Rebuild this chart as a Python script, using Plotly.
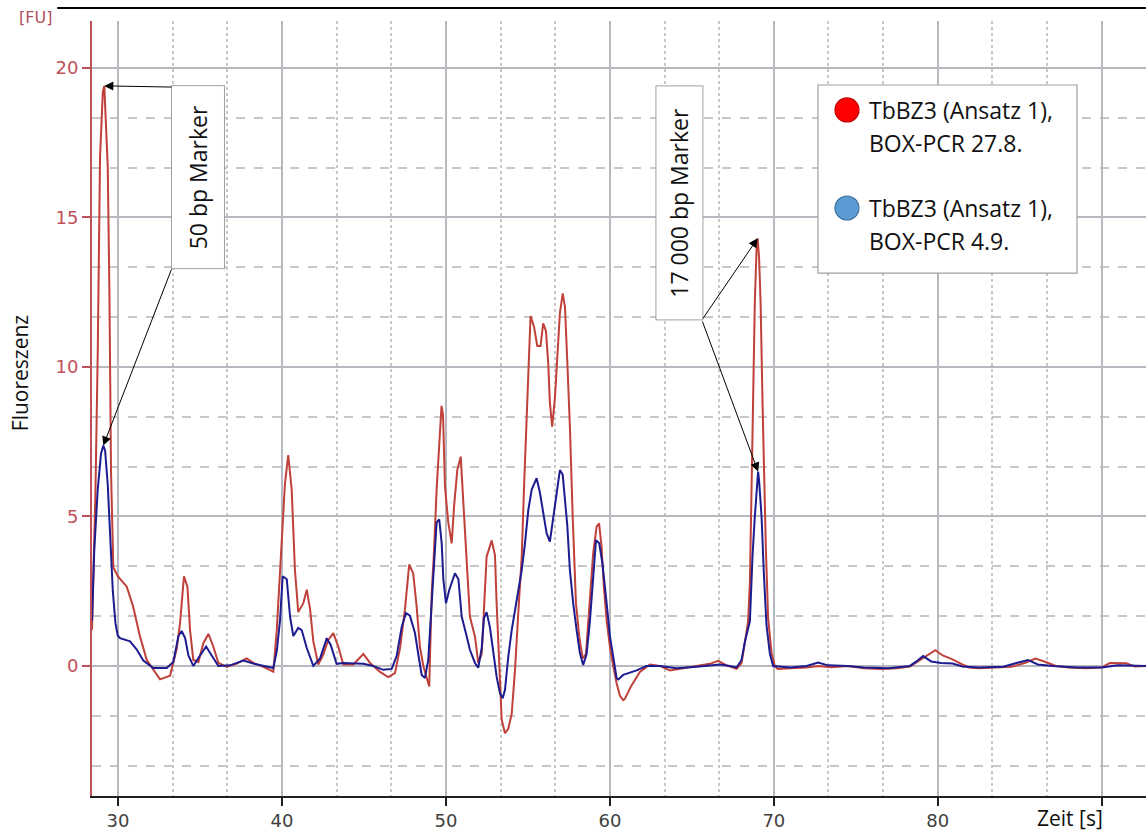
import plotly.graph_objects as go

# ---------------- data ----------------
red_t = [28.41, 28.48, 28.62, 28.76, 28.90, 29.07, 29.16, 29.37, 29.47, 29.57, 29.71, 29.98,
         30.53, 30.91, 31.34, 31.75, 32.56, 33.17, 33.58, 33.78, 34.02, 34.23, 34.39, 34.59,
         34.90, 35.20, 35.51, 35.81, 36.12, 36.63, 37.24, 37.85, 38.25, 38.86, 39.47, 39.68,
         39.98, 40.18, 40.38, 40.59, 40.79, 40.99, 41.30, 41.51, 41.71, 41.91, 42.21, 42.52,
         42.82, 43.13, 43.43, 43.74, 44.35, 44.96, 45.37, 45.98, 46.48, 46.89, 47.20, 47.50,
         47.76, 48.00, 48.21, 48.41, 48.62, 48.82, 48.98, 49.13, 49.27, 49.43, 49.63, 49.73,
         49.82, 49.94, 50.14, 50.35, 50.49, 50.69, 50.90, 51.10, 51.26, 51.46, 51.77, 51.97,
         52.18, 52.32, 52.48, 52.79, 52.99, 53.09, 53.25, 53.40, 53.60, 53.80, 54.01, 54.21,
         54.41, 54.62, 54.77, 54.92, 55.06, 55.16, 55.37, 55.57, 55.77, 55.93, 56.10, 56.24,
         56.34, 56.48, 56.65, 56.79, 56.95, 57.12, 57.26, 57.40, 57.56, 57.73, 57.93, 58.13,
         58.34, 58.54, 58.74, 58.98, 59.19, 59.34, 59.49, 59.63, 59.80, 60.00, 60.20, 60.41,
         60.61, 60.81, 60.91, 61.32, 61.83, 62.44, 63.05, 63.66, 64.47, 65.29, 66.10, 66.60,
         67.12, 67.73, 68.03, 68.23, 68.43, 68.54, 68.64, 68.74, 68.84, 68.95, 69.01, 69.10,
         69.19, 69.31, 69.39, 69.51, 69.65, 69.86, 70.06, 70.24, 71.0, 72.0, 72.7, 73.5,
         74.5, 75.5, 76.5, 77.5, 78.3, 78.8, 79.4, 79.85, 80.3, 80.9, 81.4, 81.9,
         82.5, 83.5, 84.5, 85.3, 85.96, 86.5, 87.2, 88.0, 89.0, 90.0, 90.5, 91.5,
         92.0, 92.7]
red_v = [1.2, 2.6, 5.8, 10.5, 17.0, 19.2, 19.4, 16.7, 12.6, 6.5, 3.3, 3.0,
         2.65, 2.0, 0.98, 0.2, -0.45, -0.33, 0.57, 1.43, 3.0, 2.65, 1.2, 0.2,
         0.13, 0.76, 1.07, 0.65, 0.1, -0.03, 0.08, 0.25, 0.1, -0.03, -0.19, 1.2,
         4.0, 6.1, 7.05, 5.9, 3.2, 1.8, 2.1, 2.55, 1.9, 0.82, 0.05, 0.38,
         0.87, 1.1, 0.65, 0.05, 0.05, 0.4, 0.1, -0.2, -0.37, -0.24, 0.6, 1.9,
         3.4, 3.1, 2.0, 0.65, 0.0, -0.36, -0.69, 2.43, 3.8, 5.9, 7.9, 8.7,
         8.4, 6.0, 4.8, 4.1, 5.3, 6.55, 7.0, 5.0, 3.2, 1.65, 0.98, 0.1,
         0.4, 2.1, 3.65, 4.2, 3.7, 2.1, -0.1, -1.8, -2.25, -2.1, -1.6, -0.15,
         1.76, 3.65, 6.1, 8.2, 10.2, 11.7, 11.35, 10.7, 10.7, 11.46, 11.2, 10.1,
         8.8, 8.0, 9.0, 10.35, 11.8, 12.46, 12.0, 10.2, 8.0, 5.0, 2.1, 0.98,
         0.25, 0.4, 2.1, 3.77, 4.66, 4.77, 4.0, 2.65, 1.53, 0.65, 0.0, -0.58,
         -1.0, -1.14, -1.1, -0.65, -0.2, 0.05, 0.0, -0.15, -0.08, 0.0, 0.07, 0.17,
         0.02, -0.1, 0.1, 0.77, 1.5, 2.8, 6.4, 10.1, 12.2, 14.0, 14.3, 13.65,
         12.2, 8.8, 6.4, 4.0, 1.6, 0.43, 0.0, -0.1, -0.08, -0.05, 0.0, -0.04,
         0.0, -0.08, -0.1, -0.08, -0.02, 0.15, 0.35, 0.53, 0.35, 0.22, 0.08, -0.05,
         -0.08, -0.05, -0.03, 0.1, 0.25, 0.15, 0.0, -0.05, -0.08, -0.05, 0.1, 0.09,
         -0.02, 0.0]

blue_t = [28.41, 28.55, 28.76, 28.96, 29.10, 29.21, 29.37, 29.51, 29.68, 29.84, 29.98, 30.12,
          30.73, 31.14, 31.54, 32.15, 32.97, 33.37, 33.68, 33.88, 34.09, 34.29, 34.59, 35.00,
          35.37, 35.71, 36.12, 36.83, 37.64, 38.25, 39.47, 39.68, 39.88, 40.04, 40.29, 40.49,
          40.69, 40.99, 41.20, 41.51, 41.91, 42.32, 42.73, 42.97, 43.33, 43.74, 44.96, 45.56,
          46.17, 46.69, 46.99, 47.30, 47.56, 47.80, 48.11, 48.31, 48.52, 48.72, 48.92, 49.13,
          49.27, 49.43, 49.59, 49.74, 49.84, 50.00, 50.20, 50.55, 50.76, 50.96, 51.26, 51.46,
          51.77, 51.97, 52.18, 52.32, 52.48, 52.68, 52.88, 53.09, 53.29, 53.46, 53.60, 53.80,
          54.01, 54.21, 54.41, 54.62, 54.82, 55.02, 55.23, 55.53, 55.73, 55.93, 56.14, 56.34,
          56.54, 56.75, 56.95, 57.12, 57.26, 57.40, 57.56, 57.76, 57.97, 58.17, 58.37, 58.58,
          58.78, 58.98, 59.15, 59.35, 59.55, 59.80, 60.00, 60.20, 60.41, 60.51, 60.81, 61.63,
          62.24, 63.05, 64.07, 65.29, 66.10, 66.71, 67.32, 67.73, 68.03, 68.23, 68.54, 68.70,
          68.84, 68.95, 69.04, 69.10, 69.25, 69.39, 69.55, 69.76, 69.96, 71.0, 72.0, 72.7,
          73.3, 74.5, 75.5, 77.0, 78.3, 78.7, 79.1, 79.6, 80.2, 80.9, 81.5, 82.5,
          84.0, 84.8, 85.5, 86.1, 87.0, 88.5, 90.0, 91.0, 92.7]
blue_v = [1.5, 3.9, 5.9, 7.1, 7.37, 7.2, 6.07, 4.36, 2.5, 1.43, 1.02, 0.93,
          0.82, 0.55, 0.18, -0.07, -0.07, 0.13, 1.0, 1.17, 0.93, 0.35, 0.0, 0.35,
          0.65, 0.35, 0.0, 0.02, 0.18, 0.08, -0.07, 0.5, 1.53, 3.0, 2.9, 1.65,
          1.0, 1.27, 1.2, 0.6, 0.0, 0.25, 0.93, 0.7, 0.07, 0.1, 0.07, 0.0,
          -0.13, -0.1, 0.33, 1.3, 1.77, 1.68, 1.1, 0.4, -0.3, -0.4, 0.2, 2.1,
          3.3, 4.8, 4.9, 4.1, 2.9, 2.1, 2.54, 3.1, 2.9, 1.65, 1.0, 0.54,
          0.1, -0.06, 0.6, 1.6, 1.8, 1.3, 0.5, -0.36, -0.9, -1.08, -0.8, 0.3,
          1.2, 1.87, 2.54, 3.2, 4.1, 5.2, 5.9, 6.28, 5.8, 5.2, 4.44, 4.16,
          5.0, 5.9, 6.55, 6.4, 5.6, 4.7, 3.2, 2.1, 1.2, 0.43, 0.03, 0.4,
          1.5, 3.0, 4.2, 4.1, 3.4, 2.1, 1.0, 0.32, -0.41, -0.45, -0.3, -0.15,
          0.0, 0.0, -0.08, -0.03, 0.02, 0.05, 0.0, -0.05, 0.2, 0.8, 1.5, 3.7,
          5.0, 6.0, 6.5, 6.2, 5.0, 3.1, 1.37, 0.4, 0.0, -0.05, 0.0, 0.11,
          0.02, 0.0, -0.05, -0.08, 0.0, 0.15, 0.33, 0.15, 0.1, 0.08, -0.02, -0.05,
          -0.03, 0.1, 0.2, 0.05, 0.0, -0.05, -0.05, 0.02, 0.0]

x_ticks = [30, 40, 50, 60, 70, 80, 90]
x_tick_labels = ["30", "40", "50", "60", "70", "80", ""]
y_ticks = [0, 5, 10, 15, 20]
y_tick_labels = ["0", "5", "10", "15", "20"]

legend_line1 = ["TbBZ3 (Ansatz 1),", "TbBZ3 (Ansatz 1),"]
legend_line2 = ["BOX-PCR 27.8.", "BOX-PCR 4.9."]
legend_fill = ["#ff0000", "#5b9bd5"]
legend_edge = ["#c00000", "#41719c"]

marker_labels = ["50 bp Marker", "17 000 bp Marker"]

RED_LINE = "#c0403a"
BLUE_LINE = "#1c1c90"
AXIS_RED = "#c0505a"
TEXT_FONT = "Open Sans"

# ---------------- figure ----------------
fig = go.Figure()
fig.add_trace(go.Scatter(x=red_t, y=red_v, mode="lines",
                         line=dict(color=RED_LINE, width=2), showlegend=False))
fig.add_trace(go.Scatter(x=blue_t, y=blue_v, mode="lines",
                         line=dict(color=BLUE_LINE, width=2), showlegend=False))

fig.update_layout(
    width=1146, height=834,
    margin=dict(l=92, r=0, t=21, b=38),
    paper_bgcolor="white", plot_bgcolor="white",
    font=dict(family="DejaVu Sans", size=15),
    showlegend=False,
)
fig.update_xaxes(
    range=[28.41, 92.7], tickvals=x_ticks, ticktext=x_tick_labels,
    showgrid=True, gridcolor="#b8b8c0", gridwidth=1.5,
    minor=dict(tick0=0, dtick=10 / 3, showgrid=True, gridcolor="#c8c8c8",
               griddash="dot", gridwidth=1.5, ticks=""),
    showline=True, linecolor="#202020", linewidth=1.5,
    ticks="outside", ticklen=8, tickcolor="#202020", tickwidth=1.5,
    tickfont=dict(color="#404040", size=18, family="DejaVu Sans"),
    zeroline=False, automargin=False,
)
fig.update_yaxes(
    range=[-4.35, 21.57], tickvals=y_ticks, ticktext=y_tick_labels,
    showgrid=True, gridcolor="#b8b8c0", gridwidth=1.5,
    minor=dict(tick0=0, dtick=5 / 3, showgrid=True, gridcolor="#c8c8c8",
               griddash="dash", gridwidth=1.5, ticks=""),
    showline=True, linecolor=AXIS_RED, linewidth=2,
    ticks="outside", ticklen=8, tickcolor=AXIS_RED, tickwidth=1.5,
    tickfont=dict(color=AXIS_RED, size=18, family="DejaVu Sans"),
    zeroline=False, automargin=False,
)

# ---------------- axis texts ----------------
fig.add_annotation(text="[FU]", xref="paper", yref="paper", x=-0.054, y=1.004,
                   xanchor="center", yanchor="middle",
                   showarrow=False, font=dict(color="#b05060", size=16, family="DejaVu Sans"))
fig.add_annotation(text="Fluoreszenz", xref="paper", yref="paper", x=-0.068, y=0.546,
                   xanchor="center", yanchor="middle", textangle=-90, showarrow=False,
                   font=dict(color="#111111", size=21, family=TEXT_FONT))
fig.add_annotation(text="Zeit [s]", xref="paper", yref="paper", x=0.928, y=-0.029,
                   xanchor="center", yanchor="middle",
                   showarrow=False, font=dict(color="#111111", size=21, family=TEXT_FONT))

# top border line
fig.add_shape(type="line", xref="paper", yref="paper", x0=-0.033, x1=1.0, y0=1.0168, y1=1.0168,
              line=dict(color="black", width=2))

# ---------------- legend box (drawn) ----------------
fig.add_shape(type="rect", xref="paper", yref="paper", x0=0.6888, x1=0.9345, y0=0.6748, y1=0.9174,
              line=dict(color="#a0a0a0", width=1.2), fillcolor="white", layer="above")
legend_y = [0.8852, 0.7587]
for i in range(2):
    fig.add_shape(type="circle", xref="paper", yref="paper", xsizemode="pixel", ysizemode="pixel",
                  xanchor=0.7163, yanchor=legend_y[i], x0=-12, x1=12, y0=-12, y1=12,
                  fillcolor=legend_fill[i], line=dict(color=legend_edge[i], width=1.2), layer="above")
    fig.add_annotation(text=legend_line1[i], xref="paper", yref="paper", x=0.7355, y=legend_y[i],
                       xanchor="left", yanchor="middle", showarrow=False,
                       font=dict(color="#111111", size=23, family=TEXT_FONT))
    fig.add_annotation(text=legend_line2[i], xref="paper", yref="paper", x=0.7355,
                       y=legend_y[i] - 0.0426, xanchor="left", yanchor="middle", showarrow=False,
                       font=dict(color="#111111", size=23, family=TEXT_FONT))

# ---------------- marker boxes and arrows ----------------
def peak(ts, vs, lo, hi):
    best = None
    for t, v in zip(ts, vs):
        if lo <= t <= hi and (best is None or v > best[1]):
            best = (t, v)
    return best

red_p1 = peak(red_t, red_v, 28, 31)
blue_p1 = peak(blue_t, blue_v, 28, 31)
red_p2 = peak(red_t, red_v, 68, 71)
blue_p2 = peak(blue_t, blue_v, 68, 71)

fig.add_annotation(text=marker_labels[0], x=34.88, y=16.35, xref="x", yref="y", showarrow=False,
                   textangle=-90, width=180, height=50, bordercolor="#a0a0a0", borderwidth=1,
                   bgcolor="white", font=dict(color="#111111", size=23, family=TEXT_FONT))
fig.add_annotation(text=marker_labels[1], x=64.27, y=15.5, xref="x", yref="y", showarrow=False,
                   textangle=-90, width=231, height=44, bordercolor="#a0a0a0", borderwidth=1,
                   bgcolor="white", font=dict(color="#111111", size=23, family=TEXT_FONT))

arrows = [
    ((33.35, 19.36), red_p1),
    ((33.29, 13.31), blue_p1),
    ((65.61, 11.57), red_p2),
    ((65.61, 11.57), blue_p2),
]
for tail, head in arrows:
    fig.add_annotation(text="", x=head[0], y=head[1], ax=tail[0], ay=tail[1],
                       xref="x", yref="y", axref="x", ayref="y",
                       showarrow=True, arrowhead=2, arrowsize=1.8, arrowwidth=1,
                       arrowcolor="black")

fig.write_html("out.html", config={"displayModeBar": False},
               post_script="document.body.style.margin='0';")
